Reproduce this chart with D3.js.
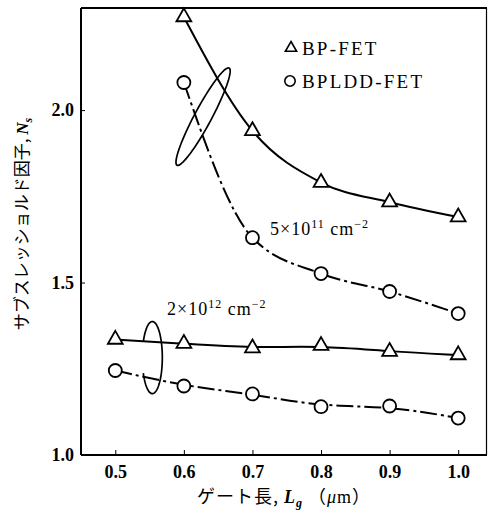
<!DOCTYPE html>
<html><head><meta charset="utf-8">
<script src="https://cdn.jsdelivr.net/npm/d3@7"></script>
<style>body{margin:0;background:#fff}svg{display:block}</style>
</head><body>
<script>
const gateLength = [0.5, 0.6, 0.7, 0.8, 0.9, 1.0];
const bp5e11    = [null, 2.27, 1.94, 1.79, 1.733, 1.69];
const bpldd5e11 = [null, 2.08, 1.63, 1.526, 1.474, 1.41];
const bp2e12    = [1.335, 1.323, 1.31, 1.317, 1.30, 1.29];
const bpldd2e12 = [1.245, 1.20, 1.177, 1.14, 1.142, 1.107];
const xTicks = [0.5, 0.6, 0.7, 0.8, 0.9, 1.0];
const yTicks = [1.0, 1.5, 2.0];
const legendLabels = ["BP-FET", "BPLDD-FET"];
// loop annotations: end points in data units
const loops = [
  {p1:[0.590, 1.84], p2:[0.666, 2.122]},
  {p1:[0.554, 1.178], p2:[0.554, 1.387]}
];

const W = 490, H = 514;
const m = {l:81, t:8, r:3, b:59};
const svg = d3.select("body").append("svg").attr("width", W).attr("height", H);
const x = d3.scaleLinear().domain([0.45, 1.042]).range([m.l, W - m.r]);
const y = d3.scaleLinear().domain([1.0, 2.296]).range([H - m.b, m.t]);
const serif = "Liberation Serif";
const cjk = "Noto Sans CJK JP";

// frame
svg.append("line").attr("x1", x.range()[0]).attr("x2", x.range()[1]).attr("y1", y.range()[1]).attr("y2", y.range()[1]).attr("stroke","#000").attr("stroke-width",2.2);
svg.append("line").attr("x1", x.range()[0]).attr("x2", x.range()[1]).attr("y1", y.range()[0]).attr("y2", y.range()[0]).attr("stroke","#000").attr("stroke-width",2.2);
svg.append("line").attr("x1", x.range()[0]).attr("x2", x.range()[0]).attr("y1", y.range()[0]).attr("y2", y.range()[1]).attr("stroke","#000").attr("stroke-width",2);
svg.append("line").attr("x1", x.range()[1]-0.5).attr("x2", x.range()[1]-0.5).attr("y1", y.range()[0]).attr("y2", y.range()[1]).attr("stroke","#000").attr("stroke-width",1.2);

// axes
const xAxis = d3.axisBottom(x).tickValues(xTicks).tickFormat(d3.format(".1f")).tickSizeInner(-5).tickSizeOuter(0).tickPadding(10);
const gx = svg.append("g").attr("transform", `translate(0,${y.range()[0]})`).call(xAxis);
gx.attr("font-family", null).attr("font-size", null);
gx.select(".domain").remove();
gx.selectAll("text").style("font-family", serif).style("font-size", "18px").style("font-weight", "bold").attr("fill","#000");
gx.selectAll("line").attr("stroke-width", 1);

const yAxis = d3.axisLeft(y).tickValues(yTicks).tickFormat(d3.format(".1f")).tickSizeInner(-4).tickSizeOuter(0).tickPadding(7);
const gy = svg.append("g").attr("transform", `translate(${x.range()[0]},0)`).call(yAxis);
gy.attr("font-family", null).attr("font-size", null);
gy.select(".domain").remove();
gy.selectAll("text").style("font-family", serif).style("font-size", "18px").style("font-weight", "bold").attr("fill","#000");
gy.selectAll("line").attr("stroke-width", 1);

// curves
function pts(vals){ return gateLength.map((g,i)=>[g, vals[i]]).filter(d=>d[1]!=null); }
const lineM = d3.line().x(d=>x(d[0])).y(d=>y(d[1])).curve(d3.curveMonotoneX);
const lineB = d3.line().x(d=>x(d[0])).y(d=>y(d[1])).curve(d3.curveBasis);
const series = [
  {v:bp5e11, sym:"tri", dash:null, gen:lineM},
  {v:bpldd5e11, sym:"circ", dash:"17,4,3,4", gen:lineM},
  {v:bp2e12, sym:"tri", dash:null, gen:lineB},
  {v:bpldd2e12, sym:"circ", dash:"17,4,3,4", gen:lineB}
];
series.forEach(s=>{
  svg.append("path").attr("d", s.gen(pts(s.v))).attr("fill","none").attr("stroke","#000")
    .attr("stroke-width",2).attr("stroke-dasharray", s.dash);
});
const triBig = d3.symbol().type(d3.symbolTriangle).size(95);
series.forEach(s=>{
  pts(s.v).forEach(d=>{
    if (s.sym==="tri") {
      svg.append("path").attr("d", triBig()).attr("transform", `translate(${x(d[0])},${y(d[1])})`)
        .attr("fill","#fff").attr("stroke","#000").attr("stroke-width",1.8);
    } else {
      svg.append("circle").attr("cx", x(d[0])).attr("cy", y(d[1])).attr("r", 6.5)
        .attr("fill","#fff").attr("stroke","#000").attr("stroke-width",1.8);
    }
  });
});

// loops
function loopPath(L, w, t0, t1){
  const a=[x(L.p1[0]), y(L.p1[1])], b=[x(L.p2[0]), y(L.p2[1])];
  const c=[(a[0]+b[0])/2, (a[1]+b[1])/2];
  const len=Math.hypot(b[0]-a[0], b[1]-a[1]), A=len/2;
  const u=[(b[0]-a[0])/len, (b[1]-a[1])/len], v=[-u[1], u[0]];
  const p=[];
  for(let i=0;i<=80;i++){
    const t=t0+(t1-t0)*i/80;
    p.push([c[0]+A*Math.cos(t)*u[0]+w*Math.sin(t)*v[0], c[1]+A*Math.cos(t)*u[1]+w*Math.sin(t)*v[1]]);
  }
  return d3.line().curve(d3.curveLinear)(p);
}
svg.append("path").attr("d", loopPath(loops[0], 8.5, Math.PI+0.75, Math.PI+0.15-2*Math.PI))
  .attr("fill","none").attr("stroke","#000").attr("stroke-width",1.7);
svg.append("path").attr("d", loopPath(loops[1], 10, 1.5*Math.PI+0.45, 1.5*Math.PI-0.45+2*Math.PI))
  .attr("fill","none").attr("stroke","#000").attr("stroke-width",1.7);

// annotations
function dens(xp, yp, mant, exp){
  const t = svg.append("text").attr("x", xp).attr("y", yp).style("font-family", serif)
    .style("font-size", "18px").attr("letter-spacing", 1).attr("fill","#000");
  t.append("tspan").text(mant + "×10");
  t.append("tspan").style("font-size", "12px").attr("dy", -7).text(exp);
  t.append("tspan").attr("dy", 7).text(" cm");
  t.append("tspan").style("font-size", "12px").attr("dy", -7).text("−2");
}
dens(270, 235, "5", "11");
dens(167, 315, "2", "12");

// legend
const lg = svg.append("g");
const triSmall = d3.symbol().type(d3.symbolTriangle).size(55);
lg.append("path").attr("d", triSmall()).attr("transform","translate(291,48)").attr("fill","#fff").attr("stroke","#000").attr("stroke-width",1.6);
lg.append("circle").attr("cx",290).attr("cy",81).attr("r",5.2).attr("fill","#fff").attr("stroke","#000").attr("stroke-width",1.6);
legendLabels.forEach((l,i)=>{
  lg.append("text").attr("x",302).attr("y",55+i*33).style("font-family", serif).style("font-size","19px")
    .attr("letter-spacing",2.2).attr("fill","#000").text(l);
});

// axis titles
const xt = svg.append("text").attr("x", (x.range()[0]+x.range()[1])/2).attr("y", 503).attr("text-anchor","middle")
  .style("font-size", "18px").attr("letter-spacing", 1).attr("fill","#000");
xt.append("tspan").style("font-family", cjk).text("ゲート長, ");
xt.append("tspan").style("font-family", serif).style("font-style","italic").style("font-weight","bold").text("L");
xt.append("tspan").style("font-family", serif).style("font-style","italic").style("font-weight","bold").style("font-size","12px").attr("dy",4).text("g");
xt.append("tspan").style("font-family", cjk).attr("dy",-4).text(" （");
xt.append("tspan").style("font-family", serif).style("font-style","italic").text("μ");
xt.append("tspan").style("font-family", serif).text("m");
xt.append("tspan").style("font-family", cjk).text("）");

const yt = svg.append("text").attr("transform","translate(28,224) rotate(-90)").attr("text-anchor","middle")
  .style("font-size", "17px").attr("fill","#000");
yt.append("tspan").style("font-family", cjk).text("サブスレッショルド因子, ");
yt.append("tspan").style("font-family", serif).style("font-style","italic").style("font-weight","bold").text("N");
yt.append("tspan").style("font-family", serif).style("font-style","italic").style("font-weight","bold").style("font-size","12px").attr("dy",4).text("s");
</script>
</body></html>
